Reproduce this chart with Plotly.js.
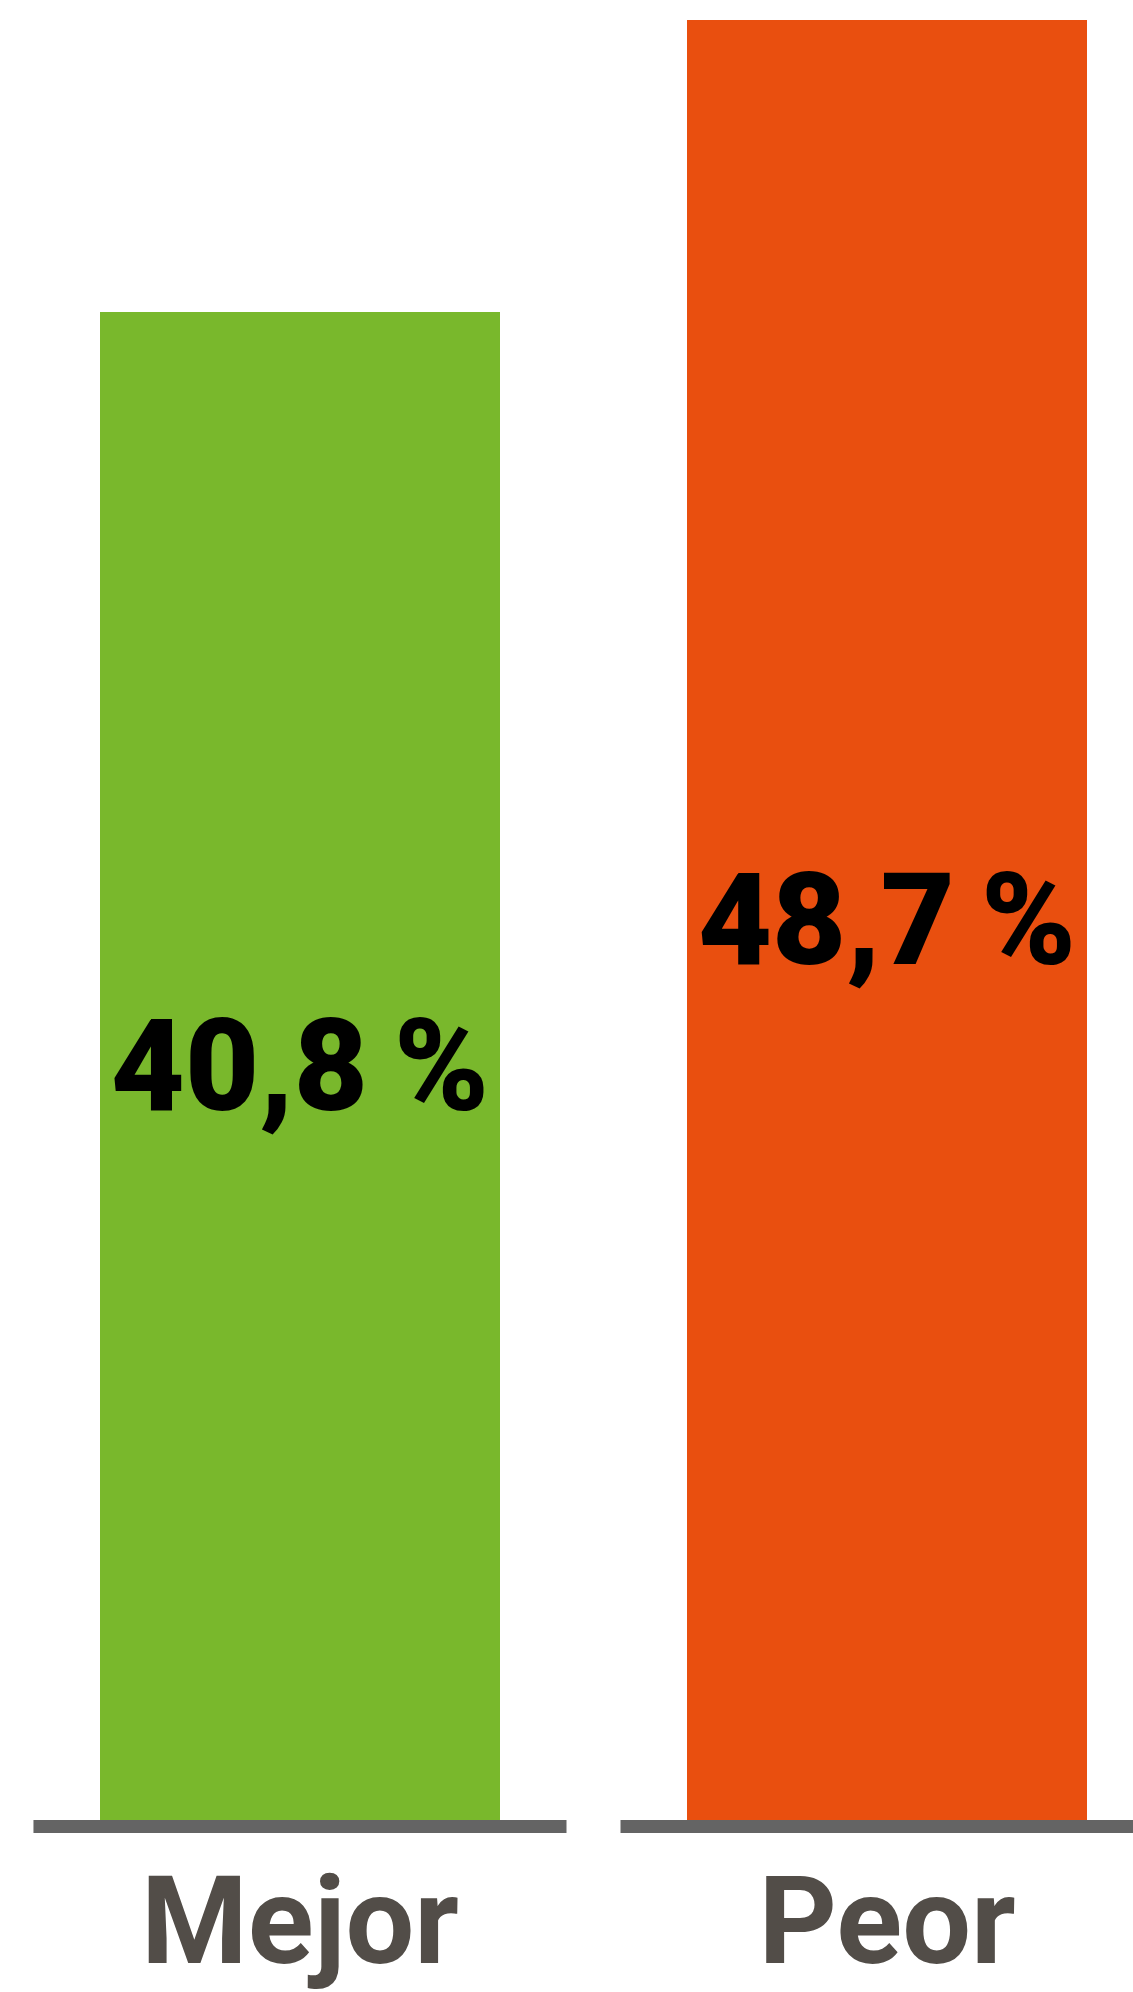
<!DOCTYPE html>
<html>
<head>
<meta charset="utf-8">
<script src="https://cdn.plot.ly/plotly-3.0.1.min.js"></script>
<style>
  html, body { margin: 0; padding: 0; background: #ffffff; }
  #chart { width: 1133px; height: 1992px; }
</style>
</head>
<body>
<div id="chart"></div>
<script>
// Data
const categories = ["Mejor", "Peor"];
const values = [40.8, 48.7];
const barColors = ["#79b82c", "#e94f0f"];

const labels = values.map(v => v.toFixed(1).replace('.', ',') + '\u2009%');

const trace = {
  type: 'bar',
  x: categories,
  y: values,
  width: 0.681,
  marker: { color: barColors, line: { width: 0 } },
  text: labels,
  textposition: 'inside',
  insidetextanchor: 'middle',
  constraintext: 'none',
  textangle: 0,
  textfont: { family: 'Roboto, sans-serif', size: 128, weight: 900, color: '#000000' },
  hoverinfo: 'skip'
};

const shapes = categories.map((c, i) => ({
  type: 'rect',
  xref: 'x',
  yref: 'y',
  x0: i - 0.454,
  x1: i + 0.454,
  ysizemode: 'pixel',
  yanchor: 0,
  y0: -13,
  y1: 0,
  fillcolor: '#646464',
  line: { width: 0 },
  layer: 'above'
}));

const layout = {
  width: 1133,
  height: 1992,
  margin: { l: 0, r: 0, t: 0, b: 152, pad: 0 },
  paper_bgcolor: '#ffffff',
  plot_bgcolor: '#ffffff',
  showlegend: false,
  bargap: 0,
  xaxis: {
    type: 'category',
    range: [-0.511, 1.419],
    showgrid: false,
    zeroline: false,
    showline: false,
    ticks: '',
    tickfont: { family: 'Roboto, sans-serif', size: 122, weight: 700, color: '#524d48' },
    ticklabelstandoff: 0,
    fixedrange: true
  },
  yaxis: {
    range: [-0.541, 49.23],
    showgrid: false,
    zeroline: false,
    showline: false,
    showticklabels: false,
    ticks: '',
    fixedrange: true
  },
  shapes: shapes
};

Plotly.newPlot('chart', [trace], layout, { staticPlot: true, displayModeBar: false });
</script>
</body>
</html>
